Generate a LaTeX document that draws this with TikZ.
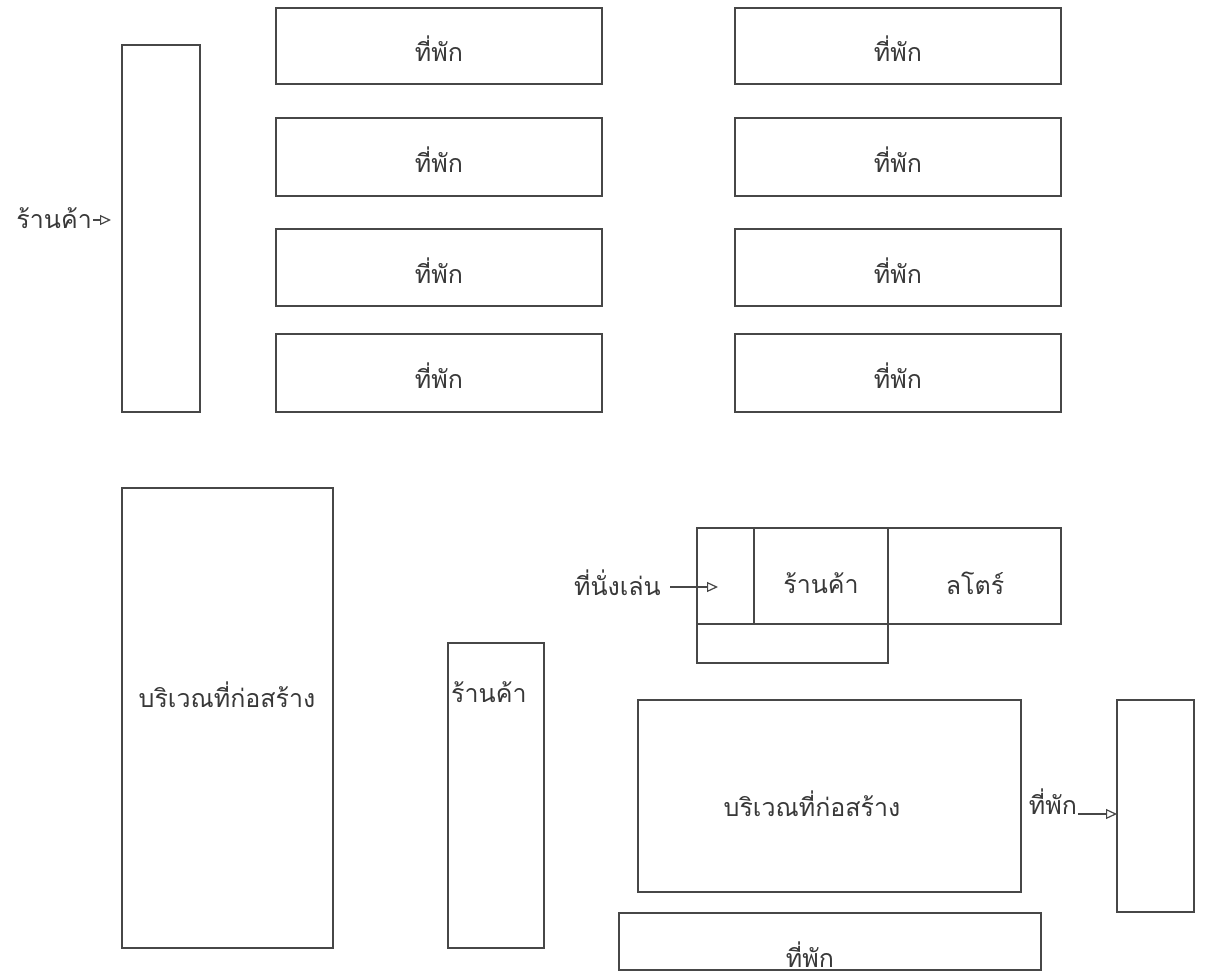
\documentclass[tikz,border=0pt]{standalone}
\usepackage{fontspec}
\newfontfamily\thaifont[Script=Thai]{Loma}
\usetikzlibrary{arrows.meta}
\begin{document}
\begin{tikzpicture}[x=1pt,y=-1pt,
  box/.style={draw=black!72, line width=1.6pt, inner sep=0pt, outer sep=0pt, anchor=north west},
  lbl/.style={font=\thaifont\fontsize{25}{30}\selectfont, text=black!78, inner sep=1pt},
  arr/.style={draw=black!72, line width=1.3pt, -{Triangle[open, length=11pt, width=10pt, line width=1.2pt]}}]
\useasboundingbox (0,0) rectangle (1205,977);
% top rows of lodgings
\node[box, minimum width=326pt, minimum height=76pt] (tl1) at (276,8) {};
\node[box, minimum width=326pt, minimum height=78pt] (tl2) at (276,118) {};
\node[box, minimum width=326pt, minimum height=77pt] (tl3) at (276,229) {};
\node[box, minimum width=326pt, minimum height=78pt] (tl4) at (276,334) {};
\node[box, minimum width=326pt, minimum height=76pt] (tr1) at (735,8) {};
\node[box, minimum width=326pt, minimum height=78pt] (tr2) at (735,118) {};
\node[box, minimum width=326pt, minimum height=77pt] (tr3) at (735,229) {};
\node[box, minimum width=326pt, minimum height=78pt] (tr4) at (735,334) {};
\foreach \n in {tl1,tl2,tl3,tl4,tr1,tr2,tr3,tr4}
  \node[lbl] (\n t) at ([yshift=-3pt]\n.center) {ที่พัก};
% tall shop strip
\node[box, minimum width=78pt, minimum height=367pt] (tall) at (122,45) {};
\node[lbl, anchor=east] (shopL) at (93,218) {ร้านค้า};
\coordinate (shopTip) at (111,220);
\draw[arr] (shopL.east |- shopTip) -- (shopTip);
% big construction area left
\node[box, minimum width=211pt, minimum height=460pt] (bigL) at (122,488) {};
\node[lbl] (bigLt) at (227,695) {บริเวณที่ก่อสร้าง};
% middle shop
\node[box, minimum width=96pt, minimum height=305pt] (mid) at (448,643) {};
\node[lbl, anchor=west] (midt) at (450,692) {ร้านค้า};
% group
\node[box, minimum width=57pt, minimum height=96pt] (seat) at (697,528) {};
\node[box, minimum width=134pt, minimum height=96pt] (shop) at (754,528) {};
\node[box, minimum width=173pt, minimum height=96pt] (store) at (888,528) {};
\node[box, minimum width=191pt, minimum height=39pt] (lower) at (697,624) {};
\node[lbl] (shopt) at (821,583) {ร้านค้า};
\node[lbl] (storet) at (975,583) {ลโตร์};
\node[lbl, anchor=east] (seatL) at (662,583) {ที่นั่งเล่น};
\coordinate (seatTip) at (718,587);
\draw[arr] ([xshift=8pt]seatL.east |- seatTip) -- (seatTip);
% center construction area
\node[box, minimum width=383pt, minimum height=192pt] (center) at (638,700) {};
\node[lbl] (centert) at (812,804) {บริเวณที่ก่อสร้าง};
% right lodging
\node[box, minimum width=77pt, minimum height=212pt] (rrect) at (1117,700) {};
\node[lbl, anchor=base] (rlabel) at (1053,814) {ที่พัก};
\draw[arr] (rlabel.base east) -- (rlabel.base east -| rrect.west);
% bottom lodging
\node[box, minimum width=422pt, minimum height=57pt] (bottom) at (619,913) {};
\node[lbl, anchor=base] (bottomt) at (810,967) {ที่พัก};
\end{tikzpicture}
\end{document}
